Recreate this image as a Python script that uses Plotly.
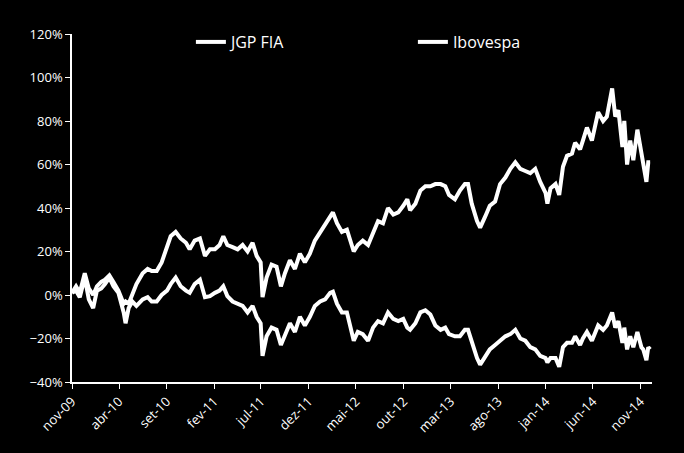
"""JGP FIA vs Ibovespa cumulative return chart."""
import plotly.graph_objects as go

dates = [
    "2009-11-01", "2009-11-14", "2009-11-26", "2009-12-12", "2009-12-25",
    "2010-01-08", "2010-01-20", "2010-02-03", "2010-02-15", "2010-03-01",
    "2010-03-14", "2010-03-30", "2010-04-16", "2010-04-22", "2010-05-02",
    "2010-05-14", "2010-05-27", "2010-06-16", "2010-07-02", "2010-07-15",
    "2010-07-31", "2010-08-16", "2010-09-02", "2010-09-14", "2010-09-30",
    "2010-10-16", "2010-11-02", "2010-11-14", "2010-11-30", "2010-12-17",
    "2011-01-02", "2011-01-18", "2011-02-03", "2011-02-18", "2011-03-02",
    "2011-03-15", "2011-04-01", "2011-04-17", "2011-05-03", "2011-05-19",
    "2011-06-04", "2011-06-17", "2011-06-30", "2011-07-06", "2011-07-19",
    "2011-08-04", "2011-08-20", "2011-09-03", "2011-09-16", "2011-10-02",
    "2011-10-18", "2011-11-03", "2011-11-19", "2011-12-05", "2011-12-21",
    "2012-01-07", "2012-01-23", "2012-02-08", "2012-02-17", "2012-03-01",
    "2012-03-17", "2012-04-02", "2012-04-24", "2012-05-07", "2012-05-23",
    "2012-06-09", "2012-06-25", "2012-07-11", "2012-07-27", "2012-08-12",
    "2012-08-29", "2012-09-14", "2012-09-30", "2012-10-13", "2012-10-22",
    "2012-11-08", "2012-11-24", "2012-12-10", "2012-12-26", "2013-01-11",
    "2013-01-28", "2013-02-12", "2013-02-24", "2013-03-15", "2013-03-31",
    "2013-04-16", "2013-04-26", "2013-05-08", "2013-05-25", "2013-06-04",
    "2013-06-20", "2013-07-05", "2013-07-22", "2013-08-07", "2013-08-24",
    "2013-09-09", "2013-09-25", "2013-10-11", "2013-10-27", "2013-11-12",
    "2013-11-28", "2013-12-14", "2013-12-31", "2014-01-06", "2014-01-16",
    "2014-02-01", "2014-02-13", "2014-02-25", "2014-03-10", "2014-03-26",
    "2014-04-05", "2014-04-21", "2014-04-30", "2014-05-13", "2014-05-29",
    "2014-06-18", "2014-07-04", "2014-07-16", "2014-08-02", "2014-08-12",
    "2014-08-22", "2014-09-04", "2014-09-10", "2014-09-19", "2014-09-29",
    "2014-10-09", "2014-10-22", "2014-11-04", "2014-11-10", "2014-11-20",
    "2014-11-26", "2014-12-02",
]

# cumulative return, %
jgp_fia = [
    1, 4, 1, 10, 3, 0, 4, 6, 7, 9,
    6, 2, -4, -3, -4, 0, 5, 10, 12, 11,
    11, 15, 22, 27, 29, 26, 24, 21, 25, 26,
    18, 21, 21, 23, 27, 23, 22, 21, 23, 20,
    24, 18, 15, -1, 8, 14, 13, 4, 10, 16,
    12, 19, 15, 19, 25, 29, 32, 36, 38, 33,
    29, 30, 20, 23, 25, 23, 28, 34, 33, 40,
    37, 38, 41, 44, 39, 42, 48, 50, 50, 51,
    51, 50, 46, 44, 48, 51, 51, 42, 34, 31,
    36, 41, 43, 51, 54, 58, 61, 58, 57, 56,
    58, 52, 47, 42, 49, 51, 46, 59, 64, 65,
    70, 67, 71, 77, 71, 84, 80, 82, 95, 82,
    85, 68, 80, 60, 71, 62, 76, 65, 62, 52,
    61, 61,
]

ibovespa = [
    1, 2, -1, 8, -2, -6, 2, 3, 5, 8,
    4, 1, -8, -13, -6, -3, -5, -2, -1, -3,
    -3, 0, 2, 5, 8, 4, 2, 1, 5, 7,
    -1, -0.5, 1, 2, 4, -0.5, -3, -4, -5, -8,
    -5, -10, -13, -28, -19, -15, -16, -23, -18, -13,
    -17, -10, -14, -10, -5, -3, -2, 1, 1.5, -4,
    -8, -8, -21, -17, -18, -21, -15, -12, -13, -8,
    -11, -12, -11, -15, -16, -13, -8, -7, -9, -14,
    -16, -15, -18, -19, -19, -16, -16, -22, -29, -32,
    -28, -25, -23, -21, -19, -18, -16, -20, -21, -24,
    -25, -28, -29, -31, -29, -29, -33, -24, -22, -22,
    -19, -23, -20, -17, -21, -14, -16, -14, -8, -15,
    -12, -22, -15, -25, -19, -24, -17, -24, -25, -30,
    -24, -25,
]

tick_dates = [
    "2009-11-01", "2010-04-01", "2010-09-01", "2011-02-01", "2011-07-01",
    "2011-12-01", "2012-05-01", "2012-10-01", "2013-03-01", "2013-08-01",
    "2014-01-01", "2014-06-01", "2014-11-01",
]
tick_labels = [
    "nov-09", "abr-10", "set-10", "fev-11", "jul-11", "dez-11", "mai-12",
    "out-12", "mar-13", "ago-13", "jan-14", "jun-14", "nov-14",
]

FONT = "Open Sans"

fig = go.Figure()
for name, values in [("JGP FIA", jgp_fia), ("Ibovespa", ibovespa)]:
    fig.add_trace(
        go.Scatter(
            x=dates,
            y=values,
            mode="lines",
            name=name,
            line={"color": "white", "width": 4},
        )
    )

fig.update_layout(
    width=684,
    height=453,
    margin={"l": 72, "r": 32, "t": 34, "b": 71},
    paper_bgcolor="black",
    plot_bgcolor="black",
    font={"family": FONT, "color": "white", "size": 13},
    showlegend=True,
    legend={
        "orientation": "h",
        "x": 0.205,
        "xanchor": "left",
        "y": 0.977,
        "yanchor": "middle",
        "bgcolor": "rgba(0,0,0,0)",
        "font": {"size": 16, "color": "white"},
        "entrywidth": 177,
    },
)
fig.update_xaxes(
    type="date",
    range=["2009-11-01", "2014-12-08"],
    tickvals=tick_dates,
    ticktext=tick_labels,
    tickangle=-45,
    showgrid=False,
    zeroline=False,
    showline=True,
    linecolor="white",
    linewidth=1.5,
    ticks="outside",
    tickcolor="white",
    ticklen=5,
)
fig.update_yaxes(
    range=[-40, 120],
    dtick=20,
    ticksuffix="%",
    showgrid=False,
    zeroline=False,
    showline=True,
    linecolor="white",
    linewidth=1.5,
    ticks="outside",
    tickcolor="white",
    ticklen=5,
)

# drop the page's default body margin so the figure fills the window
fig.write_html(
    "out.html",
    config={"displayModeBar": False},
    post_script="document.body.style.margin='0';document.body.style.background='black';",
)
